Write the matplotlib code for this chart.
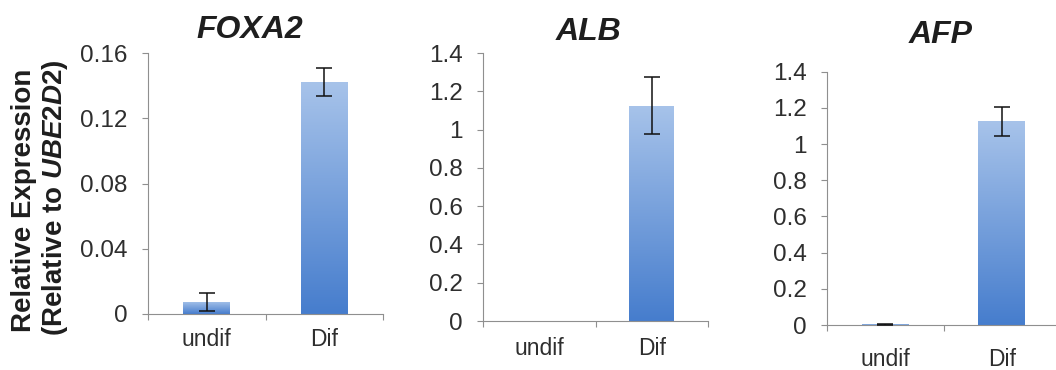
import matplotlib
matplotlib.use('Agg')
import matplotlib.pyplot as plt
import numpy as np
from matplotlib.ticker import FuncFormatter
from matplotlib.colors import LinearSegmentedColormap

plt.rcParams['font.family'] = ['Liberation Sans', 'DejaVu Sans']
plt.rcParams['mathtext.fontset'] = 'custom'
plt.rcParams['mathtext.it'] = 'Liberation Sans:italic:bold'
plt.rcParams['mathtext.rm'] = 'Liberation Sans:bold'
plt.rcParams['mathtext.bf'] = 'Liberation Sans:bold'

# ---- data ----
categories = ['undif', 'Dif']
genes = ['FOXA2', 'ALB', 'AFP']
foxa2_mean = [0.0075, 0.142]
foxa2_err = [0.0055, 0.0085]
alb_mean = [0.0, 1.125]
alb_err = [0.0, 0.148]
afp_mean = [0.004, 1.125]
afp_err = [0.002, 0.078]
foxa2_ticks = [0, 0.04, 0.08, 0.12, 0.16]
alb_ticks = [0, 0.2, 0.4, 0.6, 0.8, 1.0, 1.2, 1.4]
afp_ticks = [0, 0.2, 0.4, 0.6, 0.8, 1.0, 1.2, 1.4]

means = [foxa2_mean, alb_mean, afp_mean]
errs = [foxa2_err, alb_err, afp_err]
ticks = [foxa2_ticks, alb_ticks, afp_ticks]

W, H = 1056, 370
fig = plt.figure(figsize=(W / 100, H / 100), dpi=100)

# panel boxes in pixels: left, right, top, bottom
boxes = [(148, 383, 53, 314), (483, 708, 53, 321), (827, 1060, 71.7, 325)]
xpads = [10, 11.5, 16.5]
titles_pos = [(250, 38), (589, 40), (941, 43)]

cmap = LinearSegmentedColormap.from_list('barg', ['#467dcd', '#a7c3ea'])
axis_col = '#8f8f8f'
text_col = '#2e2e2e'

for i in range(3):
    l, r, t, b = boxes[i]
    ax = fig.add_axes([l / W, 1 - b / H, (r - l) / W, (b - t) / H])
    x = np.arange(len(categories))
    bars = ax.bar(x, means[i], width=0.4, facecolor='none', edgecolor='none', zorder=2)
    for bar in bars:
        x0, y0 = bar.get_x(), bar.get_y()
        w, h = bar.get_width(), bar.get_height()
        if h <= 0:
            continue
        grad = np.linspace(0, 1, 256).reshape(-1, 1)
        im = ax.imshow(grad, cmap=cmap, extent=[x0, x0 + w, y0, y0 + h],
                       aspect='auto', origin='lower', zorder=2, interpolation='bilinear')
        im.set_clip_path(bar)
    m = np.array(means[i])
    e = np.array(errs[i])
    keep = e > 0
    ax.errorbar(x[keep], m[keep], yerr=e[keep], fmt='none', ecolor='#111111',
                elinewidth=1.1, capsize=6, capthick=1.1, zorder=3)
    ax.set_xlim(-0.5, 1.5)
    ax.set_ylim(ticks[i][0], ticks[i][-1])
    ax.set_yticks(ticks[i])
    ax.yaxis.set_major_formatter(FuncFormatter(lambda v, p: '%g' % round(v, 4)))
    ax.tick_params(axis='y', direction='out', length=4.5, width=0.8, color=axis_col,
                   labelsize=17.5, labelcolor=text_col, pad=10)
    ax.set_xticks([-0.5, 0.5, 1.5])
    ax.set_xticklabels(['', '', ''])
    ax.set_xticks(x, minor=True)
    ax.set_xticklabels(categories, minor=True)
    ax.tick_params(axis='x', which='major', direction='out', length=4.5, width=0.8, color=axis_col)
    ax.tick_params(axis='x', which='minor', length=0, labelsize=16.5, labelcolor=text_col,
                   pad=xpads[i])
    for s in ['top', 'right']:
        ax.spines[s].set_visible(False)
    for s in ['left', 'bottom']:
        ax.spines[s].set_color(axis_col)
        ax.spines[s].set_linewidth(0.8)
    ax.patch.set_alpha(0)
    tx, ty = titles_pos[i]
    fig.text(tx / W, 1 - ty / H, genes[i], ha='center', va='baseline', fontsize=23,
             fontweight='bold', style='italic', color='#1e1e1e')

fig.text(24 / W, 1 - 200 / H, 'Relative Expression', rotation=90, ha='center', va='center',
         fontsize=20, fontweight='bold', color='#1e1e1e')
fig.text(55 / W, 1 - 198 / H, r'(Relative to $\mathit{UBE2D2}$)', rotation=90, ha='center',
         va='center', fontsize=20, fontweight='bold', color='#1e1e1e')

fig.savefig('out.png', dpi=100, facecolor='white')
